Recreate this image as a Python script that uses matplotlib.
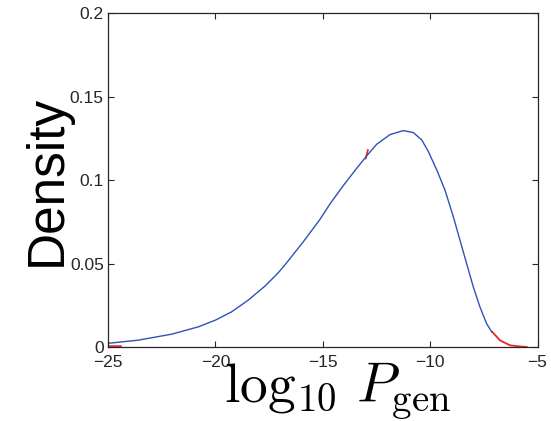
import numpy as np
import matplotlib
matplotlib.use("Agg")
import matplotlib.pyplot as plt

# Blue series
blue_x = [-25.0, -23.59, -22.03, -20.79, -20.0, -19.24, -18.47, -17.69, -17.07,
          -16.68, -15.91, -15.13, -14.66, -14.04, -13.42, -12.95, -12.49, -11.87,
          -11.25, -10.78, -10.39, -10.08, -9.69, -9.31, -8.92, -8.61, -8.30,
          -7.99, -7.68, -7.37, -7.13]
blue_y = [0.0022, 0.0041, 0.0077, 0.0121, 0.0161, 0.0211, 0.0281, 0.0365, 0.0445,
          0.0505, 0.063, 0.0765, 0.0858, 0.0968, 0.1071, 0.1146, 0.1215, 0.1273,
          0.1297, 0.1285, 0.1241, 0.1171, 0.1061, 0.0941, 0.0781, 0.064, 0.050,
          0.036, 0.024, 0.014, 0.009]

# Red series fragments visible in the picture (NaN separates pieces)
red_x = [-25.0, -24.4, np.nan, -13.0, -12.9, np.nan, -7.1, -6.75, -6.28, -5.8, -5.5]
red_y = [0.0005, 0.0005, np.nan, 0.113, 0.118, np.nan, 0.009, 0.004, 0.001, 0.0003, 0.0]

xticks = [-25, -20, -15, -10, -5]
yticks = [0, 0.05, 0.1, 0.15, 0.2]
ytick_labels = ["0", "0.05", "0.1", "0.15", "0.2"]

plt.rcParams['mathtext.fontset'] = 'cm'
plt.rcParams['font.family'] = ['Liberation Sans', 'DejaVu Sans']

fig = plt.figure(figsize=(5.51, 4.21), dpi=100)
ax = fig.add_axes([108/551, 1 - 347/421, (537.5-108)/551, (347-13.3)/421])

ax.plot(red_x, red_y, color='#e8262a', lw=1.3)
ax.plot(blue_x, blue_y, color='#2f52b8', lw=1.0)

ax.set_xlim(-25, -5)
ax.set_ylim(0, 0.2)
ax.set_xticks(xticks)
ax.set_yticks(yticks)
ax.set_yticklabels(ytick_labels)
ax.tick_params(direction='in', length=4, width=0.8, top=True, right=True,
               labelsize=12.5, labelcolor='#262626', color='#262626')
ax.tick_params(axis='x', pad=6)
ax.tick_params(axis='y', pad=3)
for s in ax.spines.values():
    s.set_linewidth(0.9)
    s.set_color('#262626')

ax.set_ylabel('Density', fontsize=37)
ax.yaxis.set_label_coords(-0.084, 0.5)
ax.set_xlabel(r'$\log_{10}\, P_{\rm gen}$', fontsize=40)
ax.xaxis.set_label_coords(0.534, -0.042)

fig.savefig('out.png', dpi=100)
